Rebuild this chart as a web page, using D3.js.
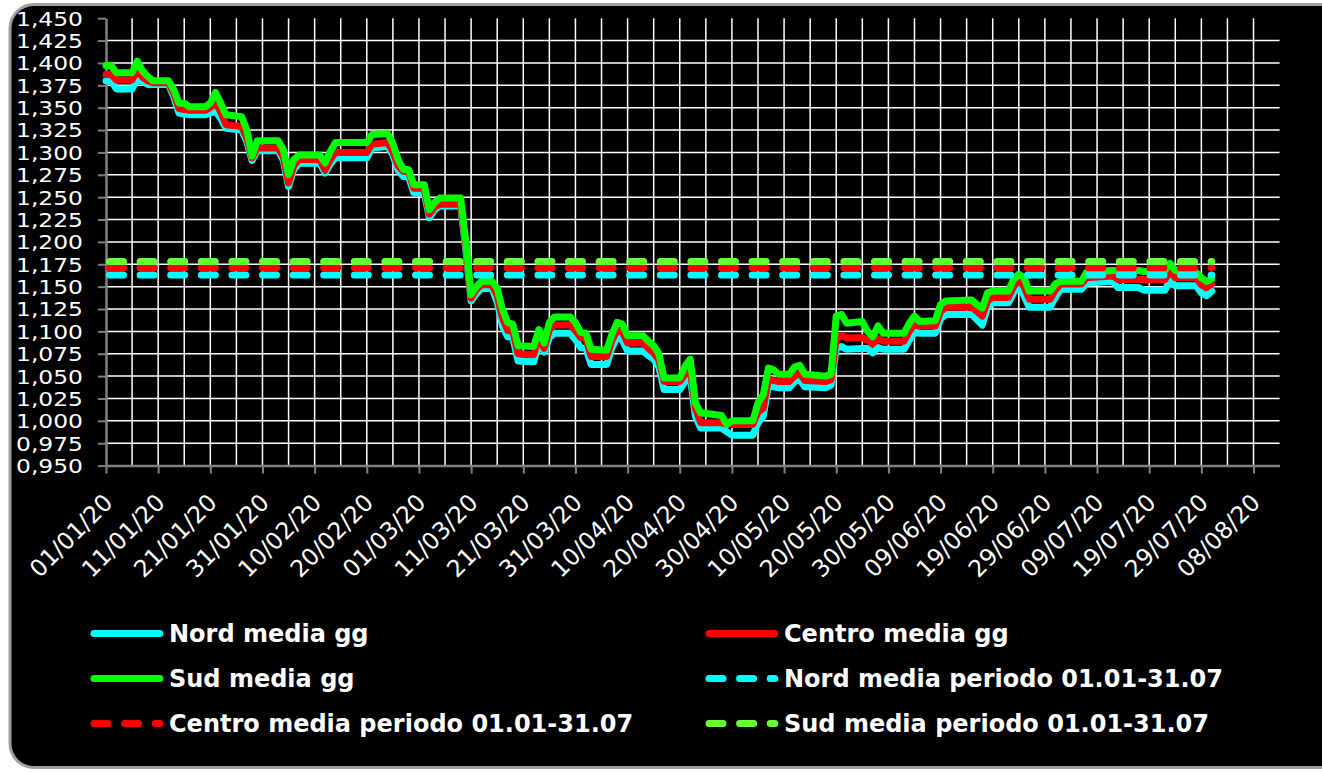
<!DOCTYPE html>
<meta charset="utf-8">
<script src="https://d3js.org/d3.v7.min.js"></script>
<style>
  body { margin: 0; background: #fff; }
  svg text { font-family: "DejaVu Sans", Verdana, sans-serif; }
</style>
<div id="chart"></div>
<script>
// daily prices (weekdays where the value changes; weekends stay flat)
var dates = [
  "2020-01-01","2020-01-02","2020-01-03","2020-01-06","2020-01-07","2020-01-08","2020-01-09","2020-01-10","2020-01-13","2020-01-14","2020-01-15","2020-01-16","2020-01-17","2020-01-20","2020-01-21","2020-01-22","2020-01-23","2020-01-24","2020-01-27","2020-01-28","2020-01-29","2020-01-30",
  "2020-02-03","2020-02-04","2020-02-05","2020-02-06","2020-02-07","2020-02-11","2020-02-12","2020-02-13","2020-02-14","2020-02-20","2020-02-21","2020-02-24","2020-02-25","2020-02-26","2020-02-27","2020-02-28","2020-02-29",
  "2020-03-02","2020-03-03","2020-03-04","2020-03-05","2020-03-09","2020-03-10","2020-03-11","2020-03-12","2020-03-13","2020-03-15","2020-03-16","2020-03-17","2020-03-18","2020-03-19","2020-03-20","2020-03-23","2020-03-24","2020-03-25","2020-03-26","2020-03-27","2020-03-30","2020-03-31",
  "2020-04-01","2020-04-02","2020-04-03","2020-04-06","2020-04-07","2020-04-08","2020-04-09","2020-04-10","2020-04-13","2020-04-14","2020-04-15","2020-04-16","2020-04-17","2020-04-20","2020-04-21","2020-04-22","2020-04-23","2020-04-24","2020-04-28","2020-04-29","2020-04-30",
  "2020-05-04","2020-05-05","2020-05-06","2020-05-07","2020-05-08","2020-05-09","2020-05-11","2020-05-12","2020-05-13","2020-05-14","2020-05-18","2020-05-19","2020-05-20","2020-05-21","2020-05-22","2020-05-25","2020-05-26","2020-05-27","2020-05-28","2020-05-29",
  "2020-06-02","2020-06-03","2020-06-04","2020-06-05","2020-06-08","2020-06-09","2020-06-10","2020-06-15","2020-06-16","2020-06-17","2020-06-18","2020-06-19","2020-06-22","2020-06-23","2020-06-24","2020-06-25","2020-06-26","2020-06-30",
  "2020-07-01","2020-07-02","2020-07-06","2020-07-07","2020-07-12","2020-07-13","2020-07-17","2020-07-18","2020-07-22","2020-07-23","2020-07-24","2020-07-28","2020-07-29","2020-07-30","2020-07-31"
];
var nord = [
  1.380,1.380,1.371,1.371,1.382,1.379,1.376,1.376,1.376,1.362,1.344,1.343,1.342,1.342,1.344,1.346,1.338,1.327,1.325,1.312,1.291,1.302,
  1.302,1.291,1.262,1.281,1.288,1.288,1.277,1.287,1.294,1.294,1.305,1.307,1.297,1.280,1.273,1.273,1.255,
  1.255,1.227,1.236,1.240,1.240,1.190,1.134,1.142,1.148,1.148,1.133,1.106,1.094,1.093,1.067,1.066,1.087,1.077,1.093,1.098,1.098,1.091,
  1.082,1.081,1.063,1.063,1.082,1.094,1.090,1.078,1.078,1.073,1.069,1.060,1.035,1.035,1.044,1.050,1.005,0.992,0.992,0.988,0.984,
  0.984,0.998,1.005,1.040,1.038,1.037,1.037,1.044,1.046,1.038,1.037,1.040,1.081,1.083,1.080,1.081,1.081,1.076,1.082,1.080,
  1.080,1.090,1.099,1.098,1.098,1.114,1.119,1.119,1.113,1.107,1.127,1.132,1.132,1.143,1.151,1.140,1.127,1.127,
  1.138,1.147,1.147,1.154,1.156,1.149,1.149,1.146,1.146,1.157,1.151,1.151,1.143,1.140,1.145
];
var centro = [
  1.387,1.387,1.381,1.381,1.392,1.384,1.380,1.378,1.378,1.366,1.349,1.348,1.347,1.347,1.350,1.356,1.345,1.331,1.329,1.316,1.294,1.305,
  1.305,1.295,1.266,1.285,1.292,1.292,1.280,1.292,1.300,1.300,1.309,1.311,1.301,1.285,1.279,1.279,1.260,
  1.260,1.231,1.239,1.242,1.242,1.195,1.137,1.147,1.152,1.152,1.140,1.115,1.101,1.100,1.075,1.074,1.094,1.081,1.102,1.107,1.107,1.101,
  1.093,1.092,1.072,1.072,1.090,1.101,1.099,1.087,1.087,1.081,1.076,1.068,1.044,1.044,1.052,1.058,1.014,0.998,0.998,0.996,0.996,
  0.996,1.010,1.014,1.047,1.045,1.044,1.044,1.050,1.053,1.045,1.044,1.046,1.092,1.095,1.093,1.093,1.090,1.086,1.092,1.089,
  1.089,1.100,1.108,1.106,1.106,1.122,1.127,1.127,1.122,1.117,1.134,1.138,1.138,1.150,1.158,1.150,1.136,1.136,
  1.146,1.153,1.153,1.160,1.162,1.158,1.158,1.158,1.158,1.167,1.160,1.160,1.152,1.149,1.153
];
var sud = [
  1.397,1.397,1.389,1.389,1.402,1.391,1.385,1.380,1.380,1.370,1.355,1.355,1.351,1.351,1.355,1.367,1.355,1.342,1.340,1.325,1.296,1.313,
  1.313,1.303,1.275,1.292,1.297,1.297,1.288,1.301,1.311,1.311,1.320,1.321,1.310,1.292,1.281,1.281,1.264,
  1.264,1.236,1.244,1.249,1.249,1.200,1.141,1.150,1.156,1.156,1.148,1.125,1.110,1.108,1.084,1.083,1.102,1.087,1.110,1.116,1.116,1.110,
  1.099,1.098,1.080,1.079,1.097,1.110,1.108,1.095,1.095,1.089,1.084,1.075,1.048,1.048,1.061,1.069,1.020,1.009,1.006,0.996,1.000,
  1.000,1.020,1.029,1.059,1.057,1.052,1.052,1.060,1.062,1.052,1.050,1.052,1.117,1.119,1.109,1.111,1.100,1.094,1.106,1.098,
  1.098,1.109,1.117,1.111,1.112,1.130,1.134,1.135,1.130,1.126,1.143,1.145,1.145,1.158,1.164,1.160,1.145,1.145,
  1.153,1.156,1.156,1.166,1.168,1.168,1.168,1.167,1.168,1.176,1.168,1.166,1.160,1.156,1.159
];

// period averages 01.01-31.07
var periodDates = ["2020-01-01", "2020-07-31"];
var periodMeans = [1.163, 1.171, 1.178];   // Nord, Centro, Sud

var seriesNames = ["Nord media gg", "Centro media gg", "Sud media gg",
  "Nord media periodo 01.01-31.07", "Centro media periodo 01.01-31.07", "Sud media periodo 01.01-31.07"];
var seriesColors = ["#00ffff", "#ff0000", "#00ff00", "#00ffff", "#ff0000", "#66ff33"];

var width = 1322, height = 772;
var plot = {left: 106, right: 1279.6, top: 18.2, bottom: 465.6};

var parse = d3.timeParse("%Y-%m-%d");
var start = parse("2020-01-01");
var end = d3.timeDay.offset(start, 225);

var x = d3.scaleTime().domain([start, end]).range([plot.left, plot.right]);
var y = d3.scaleLinear().domain([0.95, 1.45]).range([plot.bottom, plot.top]);

var svg = d3.select("#chart").append("svg")
  .attr("width", width)
  .attr("height", height);

// black rounded frame
svg.append("rect")
  .attr("x", 10).attr("y", 4.5)
  .attr("width", 1340).attr("height", 763)
  .attr("rx", 24)
  .attr("fill", "#000")
  .attr("stroke", "#a0a0a0")
  .attr("stroke-width", 3);

// gridlines
var minorDays = d3.range(5, 225, 5).map(function(d) { return d3.timeDay.offset(start, d); });
var yGrid = d3.range(1, 20).map(function(i) { return 0.95 + i * 0.025; });

svg.append("g").selectAll("line")
  .data(minorDays)
  .enter().append("line")
  .attr("x1", function(d) { return x(d); })
  .attr("x2", function(d) { return x(d); })
  .attr("y1", plot.top)
  .attr("y2", plot.bottom)
  .attr("stroke", "#fff")
  .attr("stroke-width", 1.5);

svg.append("g").selectAll("line")
  .data(yGrid)
  .enter().append("line")
  .attr("x1", plot.left)
  .attr("x2", plot.right)
  .attr("y1", function(d) { return y(d); })
  .attr("y2", function(d) { return y(d); })
  .attr("stroke", "#fff")
  .attr("stroke-width", 1.5);

// axes
var majorDays = d3.range(0, 221, 10).map(function(d) { return d3.timeDay.offset(start, d); });
var fmtDate = d3.timeFormat("%d/%m/%y");
var fmtNum = function(v) { return d3.format(".3f")(v).replace(".", ","); };

var yAxis = svg.append("g")
  .attr("transform", "translate(" + plot.left + ",0)")
  .call(d3.axisLeft(y)
    .tickValues(d3.range(0, 21).map(function(i) { return 0.95 + i * 0.025; }))
    .tickFormat(fmtNum)
    .tickSize(8)
    .tickSizeOuter(0));

var xAxis = svg.append("g")
  .attr("transform", "translate(0," + plot.bottom + ")")
  .call(d3.axisBottom(x)
    .tickValues(majorDays)
    .tickFormat(fmtDate)
    .tickSize(8)
    .tickSizeOuter(0));

[xAxis, yAxis].forEach(function(ax) {
  ax.select(".domain").attr("stroke", "#808080").attr("stroke-width", 2.5);
  ax.selectAll(".tick line").attr("stroke", "#808080").attr("stroke-width", 2);
  ax.selectAll("text").attr("fill", "#fff")
    .attr("font-family", "DejaVu Sans, Verdana, sans-serif");
});

// y labels sit 22px apart: keep the box under that, stretch to the width seen
yAxis.selectAll(".tick text")
  .attr("font-size", "19px")
  .attr("x", -23)
  .attr("dy", "0.365em")
  .attr("text-anchor", "end")
  .attr("textLength", 67)
  .attr("lengthAdjust", "spacingAndGlyphs");

xAxis.selectAll(".tick text")
  .attr("font-size", "23.5px")
  .attr("y", null)
  .attr("dy", null)
  .attr("text-anchor", "end")
  .attr("transform", "translate(7.6,38.4) rotate(-45)");

// daily lines
var rows = dates.map(function(d, i) {
  return {date: parse(d), values: [nord[i], centro[i], sud[i]]};
});

[0, 1, 2].forEach(function(k) {
  var line = d3.line()
    .x(function(d) { return x(d.date); })
    .y(function(d) { return y(d.values[k]); });
  svg.append("path")
    .datum(rows)
    .attr("d", line)
    .attr("fill", "none")
    .attr("stroke", seriesColors[k])
    .attr("stroke-width", 7)
    .attr("stroke-linejoin", "round")
    .attr("stroke-linecap", "round");
});

// period averages (dashed)
periodMeans.forEach(function(m, k) {
  svg.append("line")
    .attr("x1", x(parse(periodDates[0])))
    .attr("x2", x(parse(periodDates[1])))
    .attr("y1", y(m))
    .attr("y2", y(m))
    .attr("stroke", seriesColors[k + 3])
    .attr("stroke-width", 7)
    .attr("stroke-linecap", "round")
    .attr("stroke-dasharray", "14,16.6")
    .attr("stroke-dashoffset", -3.5);
});

// legend, two columns
var legendCols = [94, 709];
var legendRows = [642, 687, 732];
var legend = svg.append("g");

seriesNames.forEach(function(name, i) {
  var cx = legendCols[i % 2];
  var by = legendRows[Math.floor(i / 2)];
  legend.append("line")
    .attr("x1", cx).attr("x2", cx + 65.8)
    .attr("y1", by - 8.5).attr("y2", by - 8.5)
    .attr("stroke", seriesColors[i])
    .attr("stroke-width", 7)
    .attr("stroke-linecap", "round")
    .attr("stroke-dasharray", i >= 3 ? "14,16.6" : null);
  legend.append("text")
    .attr("x", cx + 75)
    .attr("y", by)
    .attr("fill", "#fff")
    .attr("font-size", "24px")
    .attr("font-weight", "bold")
    .text(name);
});
</script>
